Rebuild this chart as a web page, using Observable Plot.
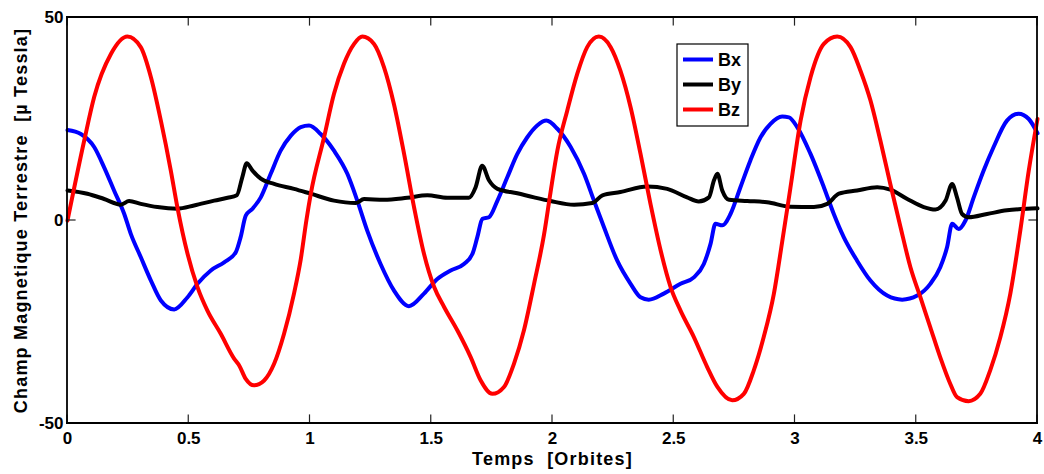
<!DOCTYPE html>
<html>
<head>
<meta charset="utf-8">
<script src="https://cdn.jsdelivr.net/npm/d3@7"></script>
<script src="https://cdn.jsdelivr.net/npm/@observablehq/plot@0.6"></script>
<style>
  body { margin: 0; background: #fff; }
  #chart { position: relative; width: 1044px; height: 474px; }
  svg text { white-space: pre; }
</style>
</head>
<body>
<div id="chart"></div>
<script>
// Axis ticks
const xTicks = [0, 0.5, 1, 1.5, 2, 2.5, 3, 3.5, 4];
const yTicks = [-50, 0, 50];

// Series names and colours
const seriesNames = ["Bx", "By", "Bz"];
const seriesColors = ["#0000ff", "#000000", "#ff0000"];

// Axis titles
const xTitle = "Temps  [Orbites]";
const yTitle = "Champ Magnetique Terrestre  [µ Tessla]";

// Bx component [µT] versus time [orbits]
const bxTime = [0, 0.055, 0.11, 0.151, 0.192, 0.234, 0.261, 0.302, 0.344, 0.385, 0.44, 0.495, 0.536, 0.591, 0.646, 0.694, 0.714, 0.735, 0.763, 0.797, 0.838, 0.879, 0.921, 0.962, 0.996,
  1.044, 1.099, 1.154, 1.195, 1.236, 1.291, 1.346, 1.408, 1.47, 1.525, 1.58, 1.635, 1.67, 1.69, 1.711, 1.738, 1.773, 1.814, 1.855, 1.896, 1.937, 1.975,
  2.02, 2.075, 2.13, 2.171, 2.212, 2.267, 2.322, 2.363, 2.397, 2.459, 2.528, 2.583, 2.624, 2.652, 2.672, 2.7, 2.734, 2.775, 2.816, 2.858, 2.899, 2.947, 2.975,
  3.009, 3.064, 3.119, 3.16, 3.201, 3.256, 3.311, 3.38, 3.442, 3.504, 3.558, 3.599, 3.627, 3.648, 3.675, 3.703, 3.737, 3.778, 3.819, 3.874, 3.922, 3.964, 4.0];
const bxField = [22.3, 21.3, 18.1, 13.1, 7.4, 1.6, -3.3, -9, -14.8, -19.7, -21.9, -18.9, -15.6, -12.3, -10.3, -7.8, -4.1, 1.2, 2.9, 5.7, 11.5, 17.2, 20.9, 23, 23.4,
  21.3, 17.2, 11.5, 4.9, -2.5, -10.7, -17.2, -21.1, -18, -14.4, -12.3, -10.7, -8.2, -4.1, 0.4, 0.8, 4.9, 10.7, 16.4, 20.5, 23.4, 24.6,
  22.6, 18.1, 11.5, 4.9, -1.6, -9.9, -15.6, -18.9, -19.5, -18, -15.6, -14, -10.7, -5.7, -0.8, -1.2, 1.6, 8.2, 14.8, 20.5, 23.8, 25.6, 25.4,
  23, 16.4, 8.2, 1.6, -4.1, -9.9, -14.8, -18.5, -19.5, -18.5, -15.6, -11.5, -6.6, -0.8, -2.1, 0, 5.7, 12.3, 18.1, 24.6, 26.3, 25, 21.5];

// By component [µT] versus time [orbits]
const byTime = [0, 0.082, 0.151, 0.22, 0.254, 0.302, 0.371, 0.453, 0.522, 0.605, 0.66, 0.698, 0.721, 0.739, 0.763, 0.797, 0.852, 0.934,
  1.003, 1.099, 1.188, 1.223, 1.305, 1.401, 1.484, 1.566, 1.655, 1.683, 1.71, 1.738, 1.773, 1.855, 1.924, 1.992,
  2.089, 2.164, 2.206, 2.28, 2.39, 2.473, 2.555, 2.603, 2.645, 2.666, 2.68, 2.7, 2.728, 2.803, 2.885, 2.981,
  3.078, 3.133, 3.181, 3.256, 3.339, 3.393, 3.463, 3.531, 3.579, 3.621, 3.648, 3.668, 3.689, 3.716, 3.792, 3.874, 3.957, 4.0];
const byField = [7.4, 6.6, 5.3, 3.9, 4.8, 4.1, 3.3, 2.9, 3.7, 4.9, 5.6, 6.2, 10.7, 14.1, 12.3, 10.3, 9, 7.8,
  6.6, 4.9, 4.3, 5.3, 5.1, 5.6, 6.2, 5.6, 5.6, 8.2, 13.5, 9.9, 7.8, 6.7, 5.7, 4.8,
  3.9, 4.3, 6.2, 7, 8.4, 7.8, 5.7, 4.7, 5.7, 9.9, 11.5, 7.4, 5.1, 4.8, 4.5, 3.4,
  3.3, 4.1, 6.6, 7.4, 8.2, 7.6, 5.3, 3.3, 2.7, 4.9, 9, 5.7, 1.6, 0.8, 1.6, 2.5, 2.9, 3.0];

// Bz component [µT] versus time [orbits]
const bzTime = [0, 0.069, 0.11, 0.179, 0.247, 0.302, 0.344, 0.385, 0.426, 0.453, 0.495, 0.536, 0.577, 0.632, 0.687, 0.708, 0.735, 0.769, 0.811, 0.852, 0.893, 0.934, 0.962, 0.985,
  1.003, 1.058, 1.099, 1.14, 1.182, 1.216, 1.264, 1.305, 1.346, 1.388, 1.429, 1.47, 1.512, 1.553, 1.608, 1.663, 1.704, 1.752, 1.8, 1.841, 1.882, 1.924, 1.965, 1.992,
  2.02, 2.061, 2.102, 2.143, 2.191, 2.24, 2.28, 2.322, 2.363, 2.404, 2.446, 2.487, 2.528, 2.583, 2.638, 2.68, 2.741, 2.789, 2.83, 2.871, 2.913, 2.947, 2.981,
  3.023, 3.064, 3.119, 3.174, 3.229, 3.27, 3.311, 3.352, 3.393, 3.435, 3.476, 3.517, 3.558, 3.599, 3.64, 3.668, 3.716, 3.764, 3.805, 3.847, 3.888, 3.929, 3.964, 4.0];
const bzField = [0, 19.7, 30.4, 41, 45.3, 42.7, 35.3, 24.6, 12.3, 3.3, -8.2, -16.4, -22.2, -27.9, -34, -35.7, -39, -40.6, -39.4, -35.3, -27.9, -18, -9.5, 0,
  6.5, 20.5, 31.2, 38.6, 43.5, 45.3, 43.5, 37.8, 28.7, 16.4, 3.3, -8.2, -16.4, -21.3, -27.1, -33.7, -39.4, -42.7, -41, -35.3, -27.1, -15.6, -3.5, 7,
  17.2, 27.1, 36.1, 42.7, 45.3, 42.7, 36.9, 27.9, 16.4, 4.1, -7.4, -16.4, -22.2, -28.7, -36.1, -41, -44.3, -42.7, -36.9, -28.7, -18, -5.3, 8,
  24.6, 35.3, 43.5, 45.3, 42.7, 36.9, 29.6, 19.7, 9, -1.6, -11.5, -18.9, -26.3, -33.7, -40.2, -43.5, -44.5, -42.7, -36.9, -28.7, -18, -2.5, 12.3, 25];

const seriesTimes = [bxTime, byTime, bzTime];
const seriesFields = [bxField, byField, bzField];

// Long-format table for the line marks
const rows = seriesNames.flatMap((name, k) =>
  seriesTimes[k].map((t, i) => ({series: name, t, b: seriesFields[k][i]}))
);

const font = "'Liberation Sans', Arial, Helvetica, sans-serif";
const xDomain = [0, 4];
const yDomain = [-50, 50];
const tickLen = 8;

const svg = Plot.plot({
  width: 1044,
  height: 474,
  marginLeft: 67,
  marginRight: 7,
  marginTop: 17,
  marginBottom: 51,
  style: {fontFamily: font, fontWeight: "bold", fontSize: "17px", color: "#000", background: "#fff", overflow: "visible"},
  x: {domain: xDomain},
  y: {domain: yDomain},
  color: {domain: seriesNames, range: seriesColors},
  marks: [
    // tick labels
    Plot.axisX(xTicks, {anchor: "bottom", tickSize: 0, tickPadding: 8, tickFormat: d => String(d), label: null}),
    Plot.axisY(yTicks, {anchor: "left", tickSize: 0, tickPadding: 4, tickFormat: d => String(d), label: null}),
    Plot.line(rows, {
      x: "t", y: "b", z: "series", stroke: "series",
      strokeWidth: 4, curve: "monotone-x", strokeLinejoin: "round", strokeLinecap: "round"
    }),
    Plot.text([xTitle], {text: d => d, frameAnchor: "bottom", dy: 36, fontSize: 18, fontWeight: "bold", lineAnchor: "middle", textAnchor: "middle"}),
    Plot.text([yTitle], {text: d => d, frameAnchor: "left", dx: -46, rotate: -90, fontSize: 18, fontWeight: "bold", lineAnchor: "middle", textAnchor: "middle"})
  ]
});

// Slightly widen the axis titles
d3.select(svg).selectAll("text")
  .filter(function() { return this.textContent === xTitle || this.textContent === yTitle; })
  .attr("letter-spacing", "1.2px");

// Box frame and inward ticks on all four sides, positioned with the plot's own scales
const sx = svg.scale("x"), sy = svg.scale("y");
const frameLeft = sx.apply(xDomain[0]), frameRight = sx.apply(xDomain[1]);
const frameTop = sy.apply(yDomain[1]), frameBottom = sy.apply(yDomain[0]);
const boxG = d3.select(svg).append("g");

function segment(x1, y1, x2, y2, width, color) {
  boxG.append("path")
    .attr("d", `M${x1},${y1}L${x2},${y2}`)
    .attr("fill", "none")
    .attr("stroke", color)
    .attr("stroke-width", width)
    .attr("stroke-linecap", "square");
}

xTicks.forEach(t => {
  const px = sx.apply(t);
  segment(px, frameBottom, px, frameBottom - tickLen, 1.2, "#222");
  segment(px, frameTop, px, frameTop + tickLen, 1.2, "#222");
});
yTicks.forEach(v => {
  const py = sy.apply(v);
  segment(frameLeft, py, frameLeft + tickLen, py, 1.2, "#222");
  segment(frameRight, py, frameRight - tickLen, py, 1.2, "#222");
});
segment(frameLeft, frameTop, frameRight, frameTop, 1.8, "#000");
segment(frameRight, frameTop, frameRight, frameBottom, 1.8, "#000");
segment(frameRight, frameBottom, frameLeft, frameBottom, 1.8, "#000");
segment(frameLeft, frameBottom, frameLeft, frameTop, 1.8, "#000");

// Legend box with line samples, placed inside the plotting area
const legend = d3.select(svg).append("g")
  .attr("transform", "translate(677,44)")
  .attr("font-family", font)
  .attr("font-weight", "bold")
  .attr("font-size", 18)
  .attr("text-anchor", "start");
legend.append("rect")
  .attr("width", 71).attr("height", 82)
  .attr("fill", "#fff").attr("stroke", "#000").attr("stroke-width", 1.2);
seriesNames.forEach((name, i) => {
  const y = 15.5 + i * 25;
  legend.append("line")
    .attr("x1", 6).attr("x2", 36).attr("y1", y).attr("y2", y)
    .attr("stroke", seriesColors[i]).attr("stroke-width", 4);
  legend.append("text")
    .attr("x", 41).attr("y", y).attr("dy", "0.36em")
    .attr("fill", "#000")
    .text(name);
});

document.getElementById("chart").appendChild(svg);
</script>
</body>
</html>
